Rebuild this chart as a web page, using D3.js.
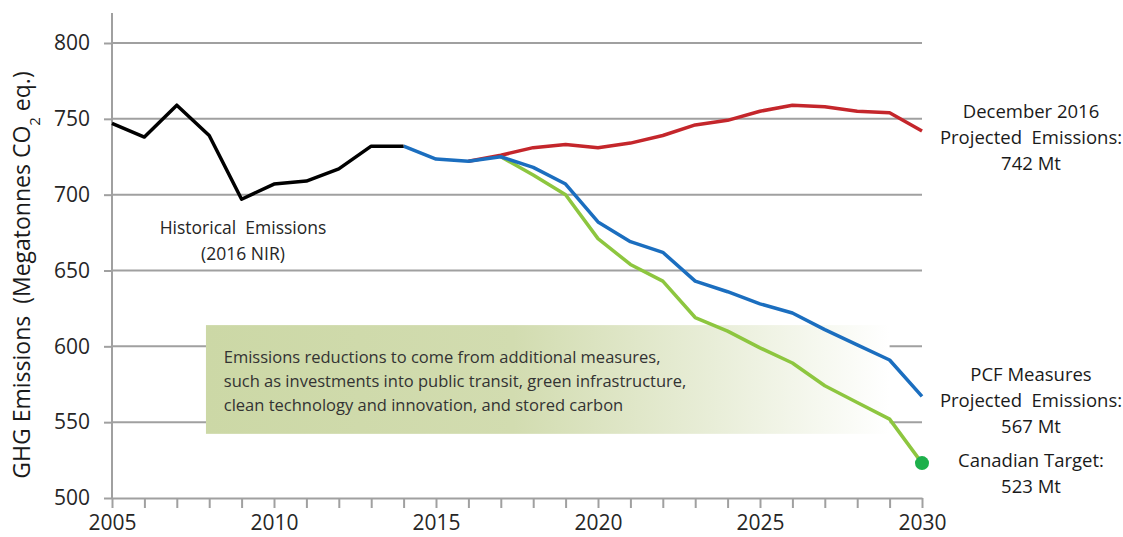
<!DOCTYPE html>
<html>
<head>
<meta charset="utf-8">
<script src="https://cdn.jsdelivr.net/npm/d3@7"></script>
<style>
  body { margin: 0; background: #fff; }
  text { font-family: "Open Sans", sans-serif; }
</style>
</head>
<body>
<svg id="chart"></svg>
<script>
// data
const historicalYears = [2005, 2006, 2007, 2008, 2009, 2010, 2011, 2012, 2013, 2014];
const historicalValues = [747, 738, 759, 739, 697, 707, 709, 717, 732, 732];

const projYears = [2016, 2017, 2018, 2019, 2020, 2021, 2022, 2023, 2024, 2025, 2026, 2027, 2028, 2029, 2030];
const decemberValues = [722, 726, 731, 733, 731, 734, 739, 746, 749, 755, 759, 758, 755, 754, 742];

const pcfYears = [2014, 2015, 2016, 2017, 2018, 2019, 2020, 2021, 2022, 2023, 2024, 2025, 2026, 2027, 2028, 2029, 2030];
const pcfValues = [732, 723.5, 722, 725, 718, 707, 682, 669, 662, 643, 636, 628, 622, 611, 601, 591, 567];

const targetYears = [2017, 2018, 2019, 2020, 2021, 2022, 2023, 2024, 2025, 2026, 2027, 2028, 2029, 2030];
const targetValues = [725, 713, 700, 671, 654, 643, 619, 610, 599, 589, 574, 563, 552, 523];

const yTicks = [500, 550, 600, 650, 700, 750, 800];
const xLabels = [2005, 2010, 2015, 2020, 2025, 2030];

const boxLines = [
    'Emissions reductions to come from additional measures,',
    'such as investments into public transit, green infrastructure,',
    'clean technology and innovation, and stored carbon'
];

const width = 1123, height = 537;
const margin = {top: 43, right: 201, bottom: 39, left: 112};

const svg = d3.select('#chart')
    .attr('width', width)
    .attr('height', height);

const innerW = width - margin.left - margin.right;
const innerH = height - margin.top - margin.bottom;

const x = d3.scaleLinear().domain([2005, 2030]).range([0, innerW]);
const y = d3.scaleLinear().domain([500, 800]).range([innerH, 0]);

const chart = svg.append('g')
    .attr('transform', `translate(${margin.left}, ${margin.top})`);

// gridlines
chart.append('g')
    .selectAll('line')
    .data(yTicks.filter(d => d > 500))
    .join('line')
    .attr('x1', 0)
    .attr('x2', innerW)
    .attr('y1', d => y(d))
    .attr('y2', d => y(d))
    .attr('stroke', '#a0a0a0')
    .attr('stroke-width', 2);

// y axis
const yAxis = d3.axisLeft(y).tickValues(yTicks).tickSize(8).tickSizeOuter(0).tickPadding(14);
const yg = chart.append('g').call(yAxis);
yg.select('.domain').remove();
yg.selectAll('.tick line').attr('stroke', '#a0a0a0').attr('stroke-width', 2);
yg.selectAll('.tick text')
    .style('font-size', '21px')
    .attr('fill', '#262626');
chart.append('line')
    .attr('x1', 0).attr('x2', 0)
    .attr('y1', -30).attr('y2', innerH)
    .attr('stroke', '#a0a0a0')
    .attr('stroke-width', 2);

// x axis
const xAxis = d3.axisBottom(x).ticks(25).tickSize(10).tickSizeOuter(0).tickPadding(7)
    .tickFormat(d => xLabels.includes(d) ? d : '');
const xg = chart.append('g')
    .attr('transform', `translate(0, ${innerH})`)
    .call(xAxis);
xg.select('.domain').attr('stroke', '#a0a0a0').attr('stroke-width', 2);
xg.selectAll('.tick line').attr('stroke', '#a0a0a0').attr('stroke-width', 2);
xg.selectAll('.tick text')
    .style('font-size', '21px')
    .attr('fill', '#262626');

// annotation box
const grad = svg.append('defs').append('linearGradient')
    .attr('id', 'boxgrad')
    .attr('x1', '0%').attr('x2', '100%')
    .attr('y1', '0%').attr('y2', '0%');
grad.append('stop').attr('offset', '0%').attr('stop-color', '#ccd8a6');
grad.append('stop').attr('offset', '45%').attr('stop-color', '#d2dcb0');
grad.append('stop').attr('offset', '75%').attr('stop-color', '#e9eed9');
grad.append('stop').attr('offset', '100%').attr('stop-color', '#ffffff');

chart.append('rect')
    .attr('x', x(2007.9))
    .attr('y', y(614))
    .attr('width', x(2029) - x(2007.9))
    .attr('height', y(542.3) - y(614))
    .attr('fill', 'url(#boxgrad)');

chart.append('g')
    .selectAll('text')
    .data(boxLines)
    .join('text')
    .attr('x', x(2008.45))
    .attr('y', (d, i) => y(593) + i * 24)
    .attr('dy', '0.35em')
    .style('font-size', '16.5px')
    .attr('fill', '#333')
    .text(d => d);

// lines
const line = d3.line()
    .x(d => x(d[0]))
    .y(d => y(d[1]));

const series = [
    {years: projYears, values: decemberValues, color: '#c4262b'},
    {years: targetYears, values: targetValues, color: '#8dc63f'},
    {years: pcfYears, values: pcfValues, color: '#1b6ebf'},
    {years: historicalYears, values: historicalValues, color: '#000000'}
];

chart.selectAll('path.series')
    .data(series)
    .join('path')
    .attr('class', 'series')
    .attr('fill', 'none')
    .attr('stroke', d => d.color)
    .attr('stroke-width', 3.5)
    .attr('stroke-linejoin', 'round')
    .attr('d', d => line(d3.zip(d.years, d.values)));

// target dot
chart.append('circle')
    .attr('cx', x(2030))
    .attr('cy', y(targetValues[targetValues.length - 1]))
    .attr('r', 7)
    .attr('fill', '#1db04b');

// labels
const labelX = 1031;
const labels = [
    {lines: ['December 2016', 'Projected  Emissions:', '742 Mt'], y: 112},
    {lines: ['PCF Measures', 'Projected  Emissions:', '567 Mt'], y: 375},
    {lines: ['Canadian Target:', '523 Mt'], y: 461}
];
labels.forEach(l => {
    svg.append('g')
        .selectAll('text')
        .data(l.lines)
        .join('text')
        .attr('x', labelX)
        .attr('y', (d, i) => l.y + i * 26)
        .attr('dy', '0.35em')
        .attr('text-anchor', 'middle')
        .style('font-size', '18.5px')
        .style('white-space', 'pre')
        .attr('fill', '#1a1a1a')
        .text(d => d);
});

svg.append('g')
    .selectAll('text')
    .data(['Historical  Emissions', '(2016 NIR)'])
    .join('text')
    .attr('x', 243)
    .attr('y', (d, i) => 228 + i * 26)
    .attr('dy', '0.35em')
    .attr('text-anchor', 'middle')
    .style('font-size', '17.5px')
    .style('white-space', 'pre')
    .attr('fill', '#262626')
    .text(d => d);

// y title
const yt = svg.append('text')
    .attr('transform', 'translate(22, 275) rotate(-90)')
    .attr('text-anchor', 'middle')
    .attr('dy', '0.35em')
    .style('font-size', '23px')
    .style('white-space', 'pre')
    .attr('fill', '#1a1a1a');
yt.append('tspan').text('GHG Emissions  (Megatonnes CO');
yt.append('tspan').attr('baseline-shift', 'sub').style('font-size', '15px').text('2');
yt.append('tspan').text(' eq.)');
</script>
</body>
</html>
